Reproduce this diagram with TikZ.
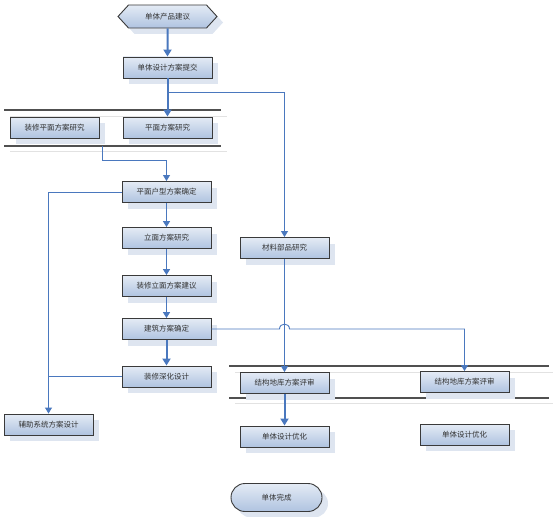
\documentclass[tikz,border=0pt]{standalone}
\usepackage{fontspec}
\newfontfamily\cjk{Noto Sans CJK SC}
\usetikzlibrary{shapes.symbols,shapes.misc,shadows,arrows.meta,calc}
\definecolor{lineblue}{HTML}{4A78BE}
\definecolor{boxedge}{HTML}{3A3A3A}
\definecolor{boxtop}{HTML}{E4EBF5}
\definecolor{boxbot}{HTML}{AFC3E0}
\definecolor{shadowc}{HTML}{DEE5F0}
\definecolor{textc}{HTML}{333333}
\definecolor{lanedark}{HTML}{505050}
\definecolor{lanefaint}{HTML}{E2E2E2}
\begin{document}
\begin{tikzpicture}[x=1pt,y=-1pt,
  boxbase/.style={draw=boxedge, line width=0.9pt, top color=boxtop, bottom color=boxbot,
    inner sep=0pt, font=\cjk\fontsize{7.5}{9}\selectfont, text=textc,
    drop shadow={fill=shadowc, opacity=1, shadow xshift=6pt, shadow yshift=-6pt}},
  box/.style={boxbase, rectangle, minimum width=89pt, minimum height=21pt},
  hexbox/.style={boxbase, signal, signal to=west and east, signal pointer angle=95,
    minimum width=99pt, minimum height=23pt},
  stadium/.style={boxbase, rounded rectangle, minimum width=91pt, minimum height=28pt},
  thickarr/.style={draw=lineblue, line width=2pt, -{Triangle[width=8pt,length=7pt]}},
  medarr/.style={draw=lineblue, line width=1.3pt, -{Triangle[width=7pt,length=6pt]}},
  thinarr/.style={draw=lineblue, line width=0.9pt, -{Triangle[width=7pt,length=6pt]}},
  thinline/.style={draw=lineblue, line width=0.9pt},
  lanedk/.style={draw=lanedark, line width=1.5pt},
  lanelt/.style={draw=lanefaint, line width=1pt}
]
\useasboundingbox (0,0) rectangle (553,516);

% lanes
\draw[lanelt] (10,116) -- (227,116);
\draw[lanelt] (10,151) -- (227,151);
\draw[lanedk] (4,110) -- (221,110);
\draw[lanedk] (4,146) -- (221,146);
\draw[lanelt] (235,372) -- (553,372);
\draw[lanelt] (235,403) -- (553,403);
\draw[lanedk] (229,366) -- (549,366);
\draw[lanedk] (229,398) -- (549,398);

% nodes
\node[hexbox] (start) at (167.5,16.5) {单体产品建议};
\node[box] (sub) at (167.5,67.5) {单体设计方案提交};
\node[box] (dp) at (54.5,127.5) {装修平面方案研究};
\node[box] (pp) at (167.5,127.5) {平面方案研究};
\node[box] (pm) at (166.5,192) {平面户型方案确定};
\node[box] (lm) at (166.5,238) {立面方案研究};
\node[box] (dl) at (166.5,286) {装修立面方案建议};
\node[box] (jz) at (166.5,329) {建筑方案确定};
\node[box] (sh) at (166.5,376.5) {装修深化设计};
\node[box] (fz) at (48.5,424.5) {辅助系统方案设计};
\node[box] (cl) at (284.5,248) {材料部品研究};
\node[box] (jg1) at (284.5,383) {结构地库方案评审};
\node[box] (jg2) at (464.5,382) {结构地库方案评审};
\node[box] (yh1) at (284.5,436.5) {单体设计优化};
\node[box] (yh2) at (464.5,434.5) {单体设计优化};
\node[stadium] (end) at (276.5,497.5) {单体完成};

\coordinate (j1) at (167.5,92);
\coordinate (c1) at (102,146);

% connectors
\draw[thickarr] (start) -- (sub);
\draw[thinarr] (j1) -| (cl.north);
\draw[thickarr] (sub) -- (pp);
\draw[thinarr] (c1) -- (102,160) -| (pm.north);
\draw[medarr] (pm) -- (lm);
\draw[medarr] (lm) -- (dl);
\draw[medarr] (dl) -- (jz);
\draw[thickarr] (jz) -- (sh);
\draw[thinarr] (pm.west) -| (fz.north);
\draw[thinline] (sh.west) -- (fz.north |- sh.west);
\draw[thinarr] (cl) -- (jg1);
\draw[thinarr] (jz.east) -- (279.5,329) .. controls (279.5,322.5) and (289.5,322.5) .. (289.5,329) -| (jg2.north);
\draw[thickarr] (jg1) -- (yh1);
\end{tikzpicture}
\end{document}
